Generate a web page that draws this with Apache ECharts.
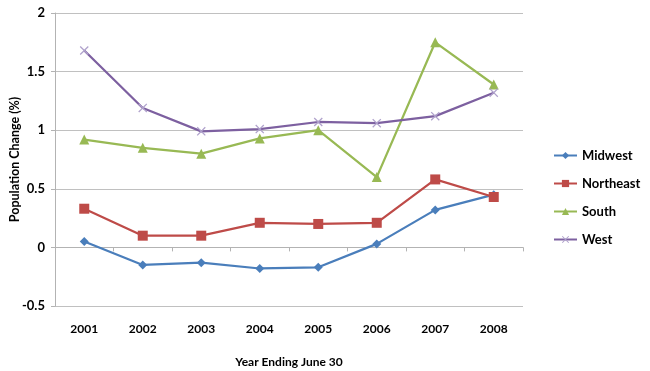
<!DOCTYPE html>
<html><head><meta charset="utf-8">
<script src="https://cdn.jsdelivr.net/npm/echarts@6/dist/echarts.min.js"></script>
<style>html,body{margin:0;padding:0;background:#fff}#c{width:650px;height:371px}</style>
</head><body><div id="c"></div>
<script>
const categories = ['2001','2002','2003','2004','2005','2006','2007','2008'];
const midwest   = [0.05, -0.15, -0.13, -0.18, -0.17, 0.03, 0.32, 0.45];
const northeast = [0.33, 0.10, 0.10, 0.21, 0.20, 0.21, 0.58, 0.43];
const south     = [0.92, 0.85, 0.80, 0.93, 1.00, 0.60, 1.75, 1.39];
const west      = [1.68, 1.19, 0.99, 1.01, 1.07, 1.06, 1.12, 1.32];
const yTicks = { min: -0.5, max: 2, interval: 0.5 };

const FONT = 'Lato';
const xMark = 'path://M0,1L1,0L5,4L9,0L10,1L6,5L10,9L9,10L5,6L1,10L0,9L4,5Z';

const chart = echarts.init(document.getElementById('c'), null, {renderer: 'canvas'});
function mk(name, data, color, symbol, size, symColor) {
  return {
    name, type: 'line', data, xAxisIndex: 0, yAxisIndex: 0,
    symbol, symbolSize: size, showSymbol: true,
    lineStyle: { color, width: 2.25 },
    itemStyle: { color: symColor || color },
    animation: false
  };
}
chart.setOption({
  animation: false,
  textStyle: { fontFamily: FONT },
  grid: { left: 55, right: 127, top: 13, bottom: 65, containLabel: false, outerBoundsMode: 'none' },
  legend: {
    orient: 'vertical', left: 548, top: 144, itemGap: 15,
    itemWidth: 23, itemHeight: 9,
    textStyle: { fontFamily: FONT, fontWeight: 'bold', fontSize: 13, color: '#000' },
    data: ['Midwest','Northeast','South','West']
  },
  xAxis: [
    {
      type: 'category', data: categories, position: 'bottom', boundaryGap: true,
      axisLine: { show: true, onZero: true, lineStyle: { color: '#b3b3b3', width: 1 } },
      axisTick: { show: true, length: 4, lineStyle: { color: '#b3b3b3' } },
      axisLabel: { show: false }, splitLine: { show: false }
    },
    {
      type: 'category', data: categories, position: 'bottom', boundaryGap: true,
      axisLine: { show: false, onZero: false }, axisTick: { show: false },
      axisLabel: { show: true, margin: 17, fontFamily: FONT, fontWeight: 'bold', fontSize: 12, color: '#000' },
      splitLine: { show: false },
      name: 'Year Ending June 30', nameLocation: 'middle', nameGap: 50,
      nameTextStyle: { fontFamily: FONT, fontWeight: 'bold', fontSize: 12, color: '#000' }
    }
  ],
  yAxis: {
    type: 'value', min: yTicks.min, max: yTicks.max, interval: yTicks.interval,
    axisLine: { show: true, lineStyle: { color: '#b3b3b3' } },
    axisTick: { show: true, length: 4, lineStyle: { color: '#b3b3b3' } },
    axisLabel: { margin: 10, fontFamily: FONT, fontWeight: 'bold', fontSize: 13, color: '#000' },
    splitLine: { show: true, lineStyle: { color: '#c0c0c0', width: 1 } },
    name: 'Population Change (%)', nameLocation: 'middle', nameGap: 34, nameMoveOverlap: false,
    nameTextStyle: { fontFamily: FONT, fontWeight: 'bold', fontSize: 12.5, color: '#000' }
  },
  series: [
    mk('Midwest', midwest, '#4a7ebb', 'diamond', 9),
    mk('Northeast', northeast, '#be4b48', 'rect', 10),
    mk('South', south, '#98b954', 'triangle', 10),
    mk('West', west, '#7d60a0', xMark, 9, '#b0a2cc')
  ]
});
</script>
</body></html>
